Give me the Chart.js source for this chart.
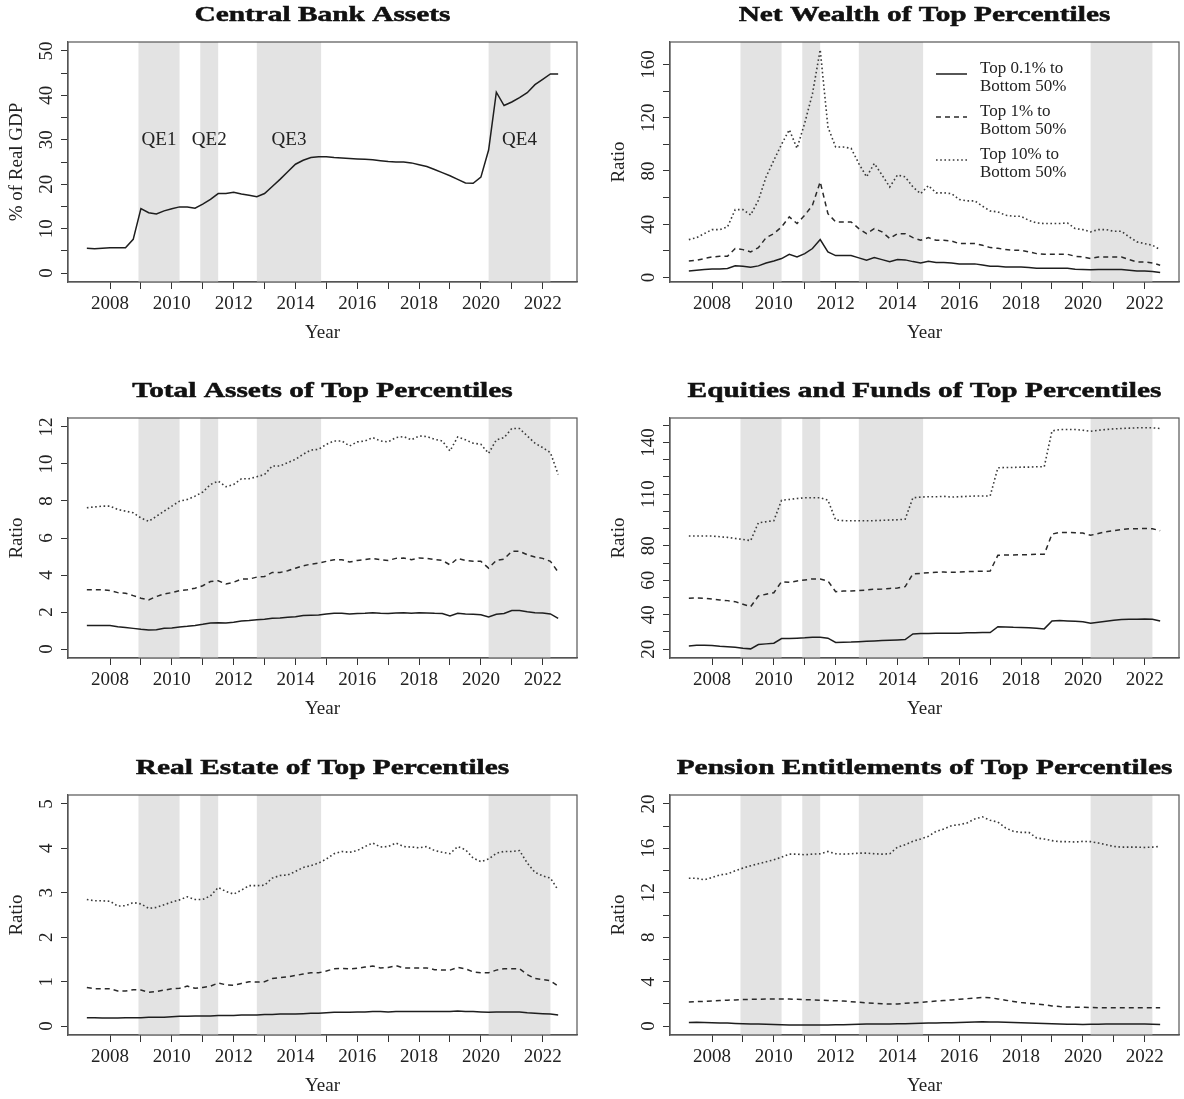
<!DOCTYPE html>
<html>
<head>
<meta charset="utf-8">
<script src="https://cdn.jsdelivr.net/npm/chart.js@4.4.1/dist/chart.umd.min.js"></script>
<style>
  body { margin: 0; background: #fff; }
  #wrap { position: relative; width: 1184px; height: 1099px; }
  canvas { position: absolute; }
</style>
</head>
<body>
<div id="wrap">
  <canvas id="c1" width="592" height="376" style="left:0px;top:0px"></canvas>
  <canvas id="c2" width="592" height="376" style="left:592px;top:0px"></canvas>
  <canvas id="c3" width="592" height="377" style="left:0px;top:376px"></canvas>
  <canvas id="c4" width="592" height="377" style="left:592px;top:376px"></canvas>
  <canvas id="c5" width="592" height="346" style="left:0px;top:753px"></canvas>
  <canvas id="c6" width="592" height="346" style="left:592px;top:753px"></canvas>
</div>
<script>
// quarterly observations, 2007Q2 .. 2022Q3
let quarters = [2007.25,2007.5,2007.75,2008,2008.25,2008.5,2008.75,2009,2009.25,2009.5,2009.75,2010,
  2010.25,2010.5,2010.75,2011,2011.25,2011.5,2011.75,2012,2012.25,2012.5,2012.75,2013,
  2013.25,2013.5,2013.75,2014,2014.25,2014.5,2014.75,2015,2015.25,2015.5,2015.75,2016,
  2016.25,2016.5,2016.75,2017,2017.25,2017.5,2017.75,2018,2018.25,2018.5,2018.75,2019,
  2019.25,2019.5,2019.75,2020,2020.25,2020.5,2020.75,2021,2021.25,2021.5,2021.75,2022,
  2022.25,2022.5];

let yearTicks = [2008,2009,2010,2011,2012,2013,2014,2015,2016,2017,2018,2019,2020,2021,2022];
let yearLabels = [2008,2010,2012,2014,2016,2018,2020,2022];

// QE periods (shaded)
let qeNames = ["QE1","QE2","QE3","QE4"];
let qeStart = [2008.92, 2010.92, 2012.75, 2020.25];
let qeEnd = [2010.25, 2011.5, 2014.83, 2022.25];

// central bank assets, % of real GDP
let cbAssets = [5.6,5.5,5.6,5.7, 5.7,5.7,7.6,14.5, 13.6,13.3,14.0,14.5, 14.9,14.9,14.6,15.5,
  16.6,17.9,17.9,18.2, 17.8,17.5,17.2,17.9, 19.5,21.1,22.8,24.5, 25.4,26.0,26.2,26.2,
  26.0,25.9,25.8,25.7, 25.6,25.5,25.3,25.1, 25.0,25.0,24.8,24.4, 24.0,23.3,22.6,21.9,
  21.1,20.3,20.2,21.6, 27.7,40.7,37.7,38.5, 39.5,40.6,42.4,43.6, 44.8,44.8];

// net wealth ratios
let nwTop01 = [5,5.5,6,6.5, 6.5,6.8,8.8,8.5, 7.8,8.8,11,12.5, 14.3,17.5,15.5,18,
  21.8,28.5,19.3,16.5, 16.5,16.5,14.8,13, 15,13.5,12,13.5, 13.3,12,11,12.3,
  11.3,11.3,11,10.3, 10.3,10.3,9.5,8.5, 8.5,8,8,8, 7.5,7,7,7,
  7,7,6.3,6, 5.8,6,6,6, 6,5.5,5,5, 4.5,3.8];
let nwTop1 = [12.5,13,14.3,15.5, 16,16,21.8,21, 19.3,22.5,30,33, 38,45.6,40.6,46.8,
  54.3,71.9,48,41.8, 41.8,41.8,36.8,33, 36.8,34.3,29.3,33, 33,30,28,30,
  28,28,27.5,25.5, 25.5,25.5,24.3,22.5, 22,21,20.5,20.5, 19.3,18,17.5,17.5,
  17.5,17.5,16,15.5, 14.3,15.5,15.5,15.5, 15.5,13.5,11.8,11.8, 11,9.3];
let nwTop10 = [28.5,30,33,36, 36,38,51,51, 47,58,75.6,88, 100,111,97,116,
  138,171,113,98, 98,97,85.6,75.6, 85.6,77,68,77, 75.6,68,63,69,
  63.6,63.6,63,58.6, 57.6,57.6,53.6,50, 49.3,46.8,46,46, 43,41,40.6,40.6,
  40.6,41,36.8,36, 34.3,36,36,34.8, 34.8,30.5,26.8,25.5, 24.3,21];

// total assets ratios
let taTop01 = [1.27,1.28,1.28,1.27, 1.21,1.17,1.12,1.07, 1.03,1.05,1.12,1.14, 1.19,1.23,1.28,1.34,
  1.41,1.43,1.41,1.45, 1.52,1.54,1.59,1.61, 1.66,1.68,1.72,1.75, 1.81,1.83,1.84,1.9,
  1.93,1.93,1.9,1.92, 1.93,1.97,1.93,1.92, 1.95,1.97,1.93,1.97, 1.95,1.93,1.92,1.79,
  1.93,1.9,1.88,1.86, 1.74,1.88,1.92,2.08, 2.08,2.02,1.97,1.95, 1.9,1.66];
let taTop1 = [3.2,3.2,3.2,3.16, 3.05,3.02,2.89,2.75, 2.66,2.84,2.98,3.05, 3.16,3.2,3.29,3.42,
  3.65,3.69,3.52,3.61, 3.78,3.78,3.89,3.92, 4.14,4.14,4.23,4.37, 4.5,4.59,4.64,4.74,
  4.83,4.83,4.7,4.79, 4.83,4.9,4.83,4.79, 4.9,4.92,4.83,4.92, 4.9,4.83,4.79,4.55,
  4.9,4.79,4.74,4.74, 4.37,4.79,4.86,5.28, 5.28,5.1,4.97,4.9, 4.74,4.16];
let taTop10 = [7.63,7.68,7.72,7.72, 7.54,7.45,7.36,7.08, 6.9,7.17,7.45,7.72, 7.99,8.08,8.26,8.48,
  8.89,9.07,8.77,8.89, 9.2,9.2,9.31,9.43, 9.89,9.89,10.07,10.25, 10.52,10.75,10.79,11.06,
  11.24,11.24,10.97,11.19, 11.24,11.42,11.24,11.19, 11.42,11.48,11.3,11.51, 11.48,11.33,11.24,10.7,
  11.46,11.3,11.12,11.06, 10.57,11.3,11.42,11.91, 11.91,11.51,11.12,10.88, 10.61,9.43];

// equities and funds ratios
let eqTop01 = [21.9,22.3,22.3,22.1, 21.7,21.5,21.2,20.6, 20.2,22.7,23.1,23.5, 26.2,26.2,26.4,26.6,
  27,27,26.4,23.9, 24.1,24.2,24.4,24.6, 24.8,25,25.2,25.4, 25.6,28.9,29.1,29.1,
  29.3,29.3,29.3,29.3, 29.5,29.5,29.7,29.7, 33.1,32.9,32.7,32.6, 32.4,32.2,31.8,36.4,
  36.6,36.4,36.2,36, 35.1,35.6,36.2,36.8, 37.2,37.4,37.4,37.6, 37.4,36.4];
let eqTop1 = [49.6,49.7,49.6,49.2, 48.6,48.2,47.6,46.1, 44.7,50.9,51.9,52.8, 59.2,58.8,59.6,60.2,
  60.8,60.8,59.6,53.4, 53.8,53.8,54,54.4, 54.8,55,55.3,55.5, 56.3,63.7,64,64.4,
  64.6,64.8,64.6,64.8, 65,65.2,65.2,65.4, 74.5,74.7,74.7,74.9, 74.9,75.1,75.1,86.8,
  87.8,87.8,87.6,87.4, 86.1,87.2,88.2,88.8, 89.5,89.9,89.9,90.1, 89.9,88.8];
let eqTop10 = [85.7,85.7,85.7,85.7, 85.3,84.9,84.3,83.7, 83.0,93.4,94,94.6, 106.5,106.9,107.5,107.9,
  107.9,107.9,106.5,95, 94.6,94.6,94.6,94.6, 94.6,94.8,95,95.1, 95.5,107.9,108.3,108.5,
  108.5,108.7,108.3,108.5, 108.7,108.9,108.9,109, 125.3,125.5,125.5,125.7, 125.7,125.9,125.9,146.7,
  147.5,147.5,147.5,147.1, 146.5,147.1,147.5,147.9, 148.1,148.3,148.5,148.5, 148.5,148.1];

// real estate ratios
let reTop01 = [0.19,0.19,0.18,0.18, 0.18,0.19,0.19,0.19, 0.2,0.2,0.2,0.21, 0.22,0.22,0.23,0.23,
  0.23,0.24,0.24,0.24, 0.25,0.25,0.25,0.26, 0.26,0.27,0.27,0.27, 0.28,0.29,0.29,0.3,
  0.31,0.31,0.31,0.32, 0.32,0.33,0.33,0.32, 0.33,0.33,0.33,0.33, 0.33,0.33,0.33,0.33,
  0.34,0.33,0.33,0.32, 0.31,0.32,0.32,0.32, 0.32,0.3,0.29,0.28, 0.27,0.25];
let reTop1 = [0.87,0.84,0.84,0.84, 0.79,0.79,0.82,0.81, 0.76,0.78,0.81,0.84, 0.85,0.9,0.85,0.87,
  0.9,0.97,0.93,0.92, 0.96,1.0,0.99,1.0, 1.07,1.09,1.11,1.14, 1.17,1.2,1.2,1.24,
  1.29,1.3,1.29,1.3, 1.33,1.35,1.31,1.32, 1.36,1.31,1.31,1.31, 1.31,1.27,1.26,1.26,
  1.32,1.29,1.22,1.2, 1.2,1.26,1.29,1.29, 1.29,1.16,1.07,1.05, 1.02,0.9];
let reTop10 = [2.85,2.82,2.82,2.81, 2.7,2.71,2.78,2.75, 2.65,2.67,2.73,2.79, 2.84,2.91,2.85,2.85,
  2.93,3.12,3.03,2.97, 3.06,3.16,3.16,3.17, 3.33,3.39,3.4,3.48, 3.57,3.61,3.67,3.76,
  3.88,3.93,3.91,3.95, 4.04,4.12,4.03,4.04, 4.12,4.04,4.03,4.01, 4.04,3.95,3.91,3.88,
  4.04,3.97,3.78,3.7, 3.76,3.89,3.93,3.93, 3.95,3.67,3.46,3.38, 3.33,3.06];

// pension entitlements ratios
let peTop01 = [0.33,0.34,0.33,0.31, 0.29,0.27,0.24,0.22, 0.2,0.19,0.17,0.15, 0.13,0.11,0.09,0.09,
  0.1,0.1,0.11,0.12, 0.13,0.15,0.16,0.18, 0.19,0.2,0.2,0.21, 0.22,0.24,0.25,0.27,
  0.29,0.3,0.31,0.33, 0.35,0.37,0.39,0.38, 0.36,0.34,0.32,0.3, 0.28,0.26,0.24,0.21,
  0.19,0.17,0.16,0.15, 0.16,0.17,0.18,0.18, 0.18,0.18,0.18,0.18, 0.17,0.15];
let peTop1 = [2.17,2.2,2.23,2.27, 2.3,2.33,2.36,2.39, 2.41,2.42,2.43,2.43, 2.43,2.43,2.41,2.38,
  2.36,2.33,2.31,2.28, 2.25,2.2,2.15,2.1, 2.06,2.02,1.98,2.0, 2.05,2.1,2.14,2.2,
  2.25,2.3,2.36,2.42, 2.47,2.53,2.58,2.55, 2.45,2.33,2.22,2.12, 2.05,2.0,1.92,1.82,
  1.76,1.72,1.7,1.69, 1.67,1.66,1.66,1.66, 1.66,1.66,1.66,1.66, 1.66,1.66];
let peTop10 = [13.31,13.31,13.16,13.37, 13.61,13.7,13.98,14.22, 14.43,14.61,14.79,14.97, 15.21,15.48,15.48,15.42,
  15.48,15.51,15.72,15.51, 15.48,15.51,15.57,15.57, 15.51,15.48,15.51,16.11, 16.33,16.63,16.84,17.08,
  17.53,17.74,18.04,18.13, 18.28,18.64,18.83,18.52, 18.37,17.83,17.53,17.44, 17.44,16.93,16.84,16.69,
  16.6,16.6,16.57,16.63, 16.6,16.48,16.33,16.17, 16.11,16.11,16.11,16.08, 16.11,16.17];

let legendText = [["Top 0.1% to", "Bottom 50%"], ["Top 1% to", "Bottom 50%"], ["Top 10% to", "Bottom 50%"]];

// panel setup
let panels = [
  { id: "c1", col: 0, title: "Central Bank Assets", ylab: "% of Real GDP", ymin: -2, ymax: 52,
    yticks: [0,5,10,15,20,25,30,35,40,45,50], ylabels: [0,10,20,30,40,50], series: [cbAssets], qeText: true },
  { id: "c2", col: 1, title: "Net Wealth of Top Percentiles", ylab: "Ratio", ymin: -3.3, ymax: 176.8,
    yticks: [0,20,40,60,80,100,120,140,160], ylabels: [0,40,80,120,160], series: [nwTop01, nwTop1, nwTop10], legend: true },
  { id: "c3", col: 0, title: "Total Assets of Top Percentiles", ylab: "Ratio", ymin: -0.48, ymax: 12.48,
    yticks: [0,2,4,6,8,10,12], ylabels: [0,2,4,6,8,10,12], series: [taTop01, taTop1, taTop10] },
  { id: "c4", col: 1, title: "Equities and Funds of Top Percentiles", ylab: "Ratio", ymin: 14.9, ymax: 154.2,
    yticks: [20,30,40,50,60,70,80,90,100,110,120,130,140,150], ylabels: [20,40,60,80,110,140], series: [eqTop01, eqTop1, eqTop10] },
  { id: "c5", col: 0, title: "Real Estate of Top Percentiles", ylab: "Ratio", ymin: -0.2, ymax: 5.2,
    yticks: [0,1,2,3,4,5], ylabels: [0,1,2,3,4,5], series: [reTop01, reTop1, reTop10] },
  { id: "c6", col: 1, title: "Pension Entitlements of Top Percentiles", ylab: "Ratio", ymin: -0.8, ymax: 20.8,
    yticks: [0,2,4,6,8,10,12,14,16,18,20], ylabels: [0,4,8,12,16,20], series: [peTop01, peTop1, peTop10] }
];

let lineColor = ["#1e1e1e", "#2a2a2a", "#3a3a3a"];
let lineDash = [[], [5, 4], [1.6, 2.6]];
let lineWidth = [1.5, 1.5, 1.6];
let serif = '"Liberation Serif", "Times New Roman", serif';

let panelById = {};
panels.forEach(p => panelById[p.id] = p);

// R-like decorations: shading, box, labels, titles, legend
const rStyle = {
  id: "rStyle",
  beforeDatasetsDraw(chart) {
    let a = chart.chartArea;
    let x = chart.scales.x;
    let ctx = chart.ctx;
    ctx.save();
    ctx.fillStyle = "#e3e3e3";
    for (let i = 0; i < qeStart.length; i++) {
      let x0 = x.getPixelForValue(qeStart[i]);
      let x1 = x.getPixelForValue(qeEnd[i]);
      ctx.fillRect(x0, a.top, x1 - x0, a.bottom - a.top);
    }
    ctx.restore();
  },
  afterDraw(chart) {
    let p = panelById[chart.canvas.id];
    let a = chart.chartArea;
    let x = chart.scales.x;
    let y = chart.scales.y;
    let ctx = chart.ctx;
    ctx.save();

    ctx.strokeStyle = "#555";
    ctx.lineWidth = 1.2;
    ctx.strokeRect(a.left, a.top, a.right - a.left, a.bottom - a.top);

    ctx.fillStyle = "#222";
    ctx.font = "19px " + serif;
    ctx.textAlign = "center";
    ctx.textBaseline = "alphabetic";
    yearLabels.forEach(v => ctx.fillText(String(v), x.getPixelForValue(v), a.bottom + 27));
    ctx.fillText("Year", (a.left + a.right) / 2, a.bottom + 56);

    p.ylabels.forEach(v => {
      ctx.save();
      ctx.translate(a.left - 16.5, y.getPixelForValue(v));
      ctx.rotate(-Math.PI / 2);
      ctx.fillText(String(v), 0, 0);
      ctx.restore();
    });

    ctx.save();
    ctx.translate(a.left - 46, (a.top + a.bottom) / 2);
    ctx.rotate(-Math.PI / 2);
    ctx.fillText(p.ylab, 0, 0);
    ctx.restore();

    if (p.qeText) {
      ctx.textBaseline = "middle";
      for (let i = 0; i < qeNames.length; i++) {
        let mid = (qeStart[i] + qeEnd[i]) / 2;
        ctx.fillText(qeNames[i], x.getPixelForValue(mid), y.getPixelForValue(30));
      }
      ctx.textBaseline = "alphabetic";
    }

    // title, widened and slightly heavier to mimic the extended bold face
    ctx.font = "bold 22px " + serif;
    let stretch = 256 / ctx.measureText("Central Bank Assets").width;
    ctx.save();
    ctx.translate((a.left + a.right) / 2, 21);
    ctx.scale(stretch, 1);
    ctx.fillStyle = "#111";
    ctx.strokeStyle = "#111";
    ctx.lineWidth = 0.5;
    ctx.fillText(p.title, 0, 0);
    ctx.strokeText(p.title, 0, 0);
    ctx.restore();

    if (p.legend) {
      ctx.font = "17px " + serif;
      ctx.textAlign = "left";
      for (let i = 0; i < legendText.length; i++) {
        let base = 73 + 43 * i;
        ctx.save();
        ctx.strokeStyle = lineColor[i];
        ctx.lineWidth = lineWidth[i];
        ctx.setLineDash(lineDash[i]);
        ctx.beginPath();
        ctx.moveTo(344, base + 1);
        ctx.lineTo(375, base + 1);
        ctx.stroke();
        ctx.restore();
        ctx.fillText(legendText[i][0], 388, base);
        ctx.fillText(legendText[i][1], 388, base + 17.5);
      }
    }
    ctx.restore();
  }
};

function makeChart(p) {
  let canvas = document.getElementById(p.id);
  let plotLeft = p.col ? 78 : 68;
  let padRight = p.col ? 5 : 15;

  let datasets = p.series.map((s, i) => ({
    data: quarters.map((q, j) => ({ x: q, y: s[j] })),
    borderColor: lineColor[i],
    borderWidth: lineWidth[i],
    borderDash: lineDash[i],
    pointRadius: 0,
    tension: 0,
    fill: false
  }));

  new Chart(canvas, {
    type: "line",
    data: { datasets: datasets },
    options: {
      responsive: false,
      animation: false,
      devicePixelRatio: 1,
      layout: { padding: { top: 42, right: padRight, left: 0, bottom: 0 } },
      plugins: { legend: { display: false }, tooltip: { enabled: false } },
      scales: {
        x: {
          type: "linear", min: 2006.64, max: 2023.11,
          afterBuildTicks: s => { s.ticks = yearTicks.map(v => ({ value: v })); },
          afterFit: s => { s.height = canvas.height - 282; },
          ticks: { display: false },
          grid: { drawOnChartArea: false, drawTicks: true, tickLength: 7, color: "#333" },
          border: { display: true, color: "#555", width: 1.2 }
        },
        y: {
          type: "linear", min: p.ymin, max: p.ymax,
          afterBuildTicks: s => { s.ticks = p.yticks.map(v => ({ value: v })); },
          afterFit: s => { s.width = plotLeft; },
          ticks: { display: false },
          grid: { drawOnChartArea: false, drawTicks: true, tickLength: 7, color: "#333" },
          border: { display: true, color: "#555", width: 1.2 }
        }
      }
    },
    plugins: [rStyle]
  });
}

panels.forEach(makeChart);
</script>
</body>
</html>
